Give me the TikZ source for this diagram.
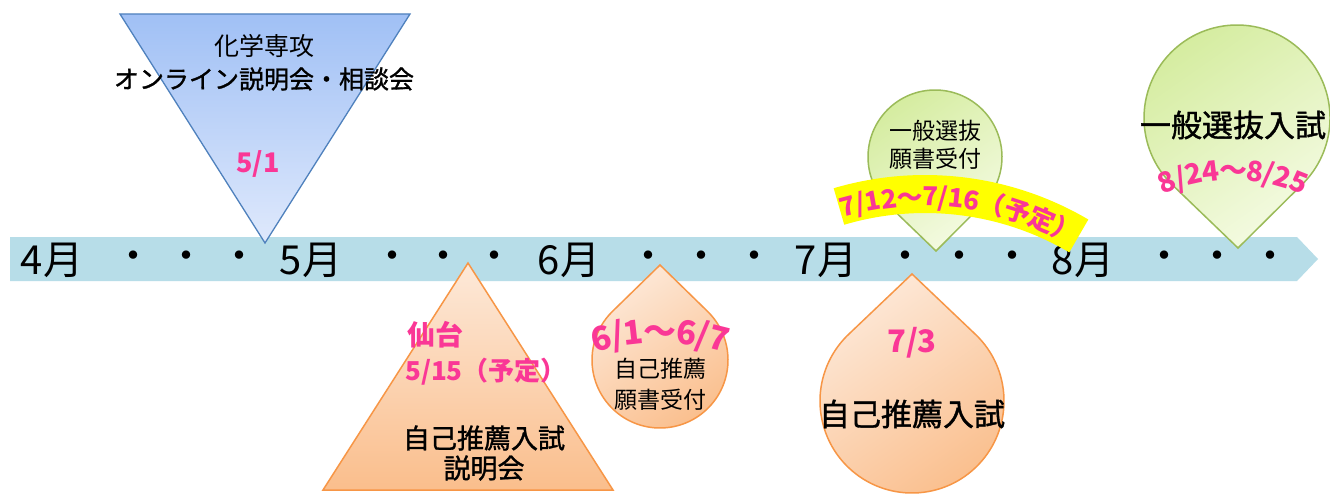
\documentclass[tikz,border=0pt]{standalone}
\usepackage{fontspec}
\usetikzlibrary{calc,decorations.text}
\newfontfamily\jp{Noto Sans CJK JP}
\newfontfamily\jpm{Noto Sans CJK JP}[FakeBold=1.2]
\definecolor{bandc}{RGB}{183,221,232}
\definecolor{pinkt}{RGB}{250,55,150}
\definecolor{bluetop}{RGB}{160,192,245}
\definecolor{bluebot}{RGB}{223,233,252}
\definecolor{blueline}{RGB}{79,129,189}
\definecolor{orline}{RGB}{247,150,70}
\definecolor{ortop}{RGB}{253,233,217}
\definecolor{orbot}{RGB}{250,190,140}
\definecolor{grline}{RGB}{155,187,89}
\definecolor{grtop}{RGB}{212,236,158}
\definecolor{grbot}{RGB}{245,251,228}
\definecolor{yel}{RGB}{255,255,0}
\tikzset{
  blk/.style={inner sep=0pt, text=black, font={\jp\fontsize{23}{27}\selectfont}},
  blkm/.style={inner sep=0pt, text=black, font={\jpm\fontsize{26}{30}\selectfont}},
  blkl/.style={inner sep=0pt, text=black, font={\jpm\fontsize{31}{35}\selectfont}},
  pk/.style={inner sep=0pt, text=pinkt, font={\jp\bfseries\fontsize{27}{30}\selectfont}},
  monthlbl/.style={inner sep=0pt, text=black, font={\jp\fontsize{40}{44}\selectfont}},
  dotlbl/.style={inner sep=0pt, text=black, font={\jp\bfseries\fontsize{30}{32}\selectfont}},
  bluetri/.style={draw=blueline, line width=1.3pt, top color=bluetop, bottom color=bluebot},
  ortri/.style={draw=orline, line width=1.5pt, top color=ortop, bottom color=orbot},
  ordrop/.style={draw=orline, line width=1.5pt, top color=ortop, bottom color=orbot, shading angle=35},
  grdrop/.style={draw=grline, line width=1.5pt, top color=grtop, bottom color=grbot, shading angle=35},
}
\begin{document}
\begin{tikzpicture}[x=1pt,y=-1pt]
\useasboundingbox (0,0) rectangle (1330,495);
\fill[white] (0,0) rectangle (1330,495);
% band arrow
\fill[bandc] (10,237) -- (1297,237) -- (1318,259) -- (1297,281) -- (10,281) -- cycle;
% month labels and dots
\node[monthlbl] (m4) at (52,260) {4月};
\node[monthlbl] (m5) at (311,260) {5月};
\node[monthlbl] (m6) at (569,260) {6月};
\node[monthlbl] (m7) at (826,260) {7月};
\node[monthlbl] (m8) at (1083,260) {8月};
\foreach \x [count=\i] in {133,186,239,392,443,494,648,701,754,905,959,1012,1164,1217,1270}
  \node[dotlbl] (d\i) at (\x,259) {・};
% blue triangle
\path[bluetri] (120,14) -- (410,14) -- (265,243) -- cycle;
\node[blk, font={\jp\fontsize{25}{28}\selectfont}] (t1) at (264,46) {化学専攻};
\node[blkm, font={\jpm\fontsize{25}{28}\selectfont}] (t2) at (264,79) {オンライン説明会・相談会};
\node[pk] (t3) at (258,164) {5/1};
% orange triangle
\path[ortri] (468,263) -- (613,490) -- (323,490) -- cycle;
\node[pk, anchor=west, font={\jp\bfseries\fontsize{28}{30}\selectfont}] (t4) at (407,335) {仙台};
\node[pk, anchor=west, font={\jp\bfseries\fontsize{26}{30}\selectfont}] (t5) at (405,372) {5/15（予定）};
\node[blkm, font={\jpm\fontsize{27}{30}\selectfont}] (t6) at (484,438) {自己推薦入試};
\node[blkm, font={\jpm\fontsize{27}{30}\selectfont}] (t7) at (484,468) {説明会};
% orange drop 1
\coordinate (c1) at (660,360);
\path[ordrop] (660,265) -- ($(c1)+(-45.7:68)$) arc[start angle=-45.7, end angle=225.7, radius=68] -- cycle;
\path[decorate, decoration={text along path, text align=center, raise=-11pt,
  text={|\jp\bfseries\fontsize{33}{36}\selectfont\color{pinkt}|6/1～6/7}}]
  ($(660,572)+(-113:240)$) arc[start angle=-113, end angle=-67, radius=240];
\node[blk] (t8) at (660,369) {自己推薦};
\node[blk] (t9) at (660,400) {願書受付};
% orange drop 2
\coordinate (c2) at (912,401);
\path[ordrop] (912,274) -- ($(c2)+(-46.4:92)$) arc[start angle=-46.4, end angle=226.4, radius=92] -- cycle;
\node[pk, font={\jp\bfseries\fontsize{31}{34}\selectfont}] (t10) at (912,343) {7/3};
\node[blkl] (t11) at (912,414) {自己推薦入試};
% green drop 1
\coordinate (c3) at (935,157);
\path[grdrop] (936,251) -- ($(c3)+(134.5:67)$) arc[start angle=134.5, end angle=405.5, radius=67] -- cycle;
\node[blk] (t12) at (935,131) {一般選抜};
\node[blk] (t13) at (935,159) {願書受付};
% yellow banner
\draw[yel, line width=38pt] ($(925,497)+(-106.5:303)$) arc[start angle=-106.5, end angle=-59.5, radius=303];
\path[decorate, decoration={text along path, text align=center, raise=-9pt,
  text={|\jp\bfseries\fontsize{26}{30}\selectfont\color{pinkt}|7/12～7/16（予定）}}]
  ($(925,497)+(-106:300)$) arc[start angle=-106, end angle=-60, radius=300];
% green drop 2
\coordinate (c4) at (1237,118);
\path[grdrop] (1238,248) -- ($(c4)+(134.3:93)$) arc[start angle=134.3, end angle=405.7, radius=93] -- cycle;
\node[blkl] (t14) at (1233,125) {一般選抜入試};
\path[decorate, decoration={text along path, text align=center, raise=-10pt,
  text={|\jp\bfseries\fontsize{28}{31}\selectfont\color{pinkt}|8/24～8/25}}]
  ($(1233,350)+(-118:180)$) arc[start angle=-118, end angle=-62, radius=180];
\end{tikzpicture}
\end{document}
